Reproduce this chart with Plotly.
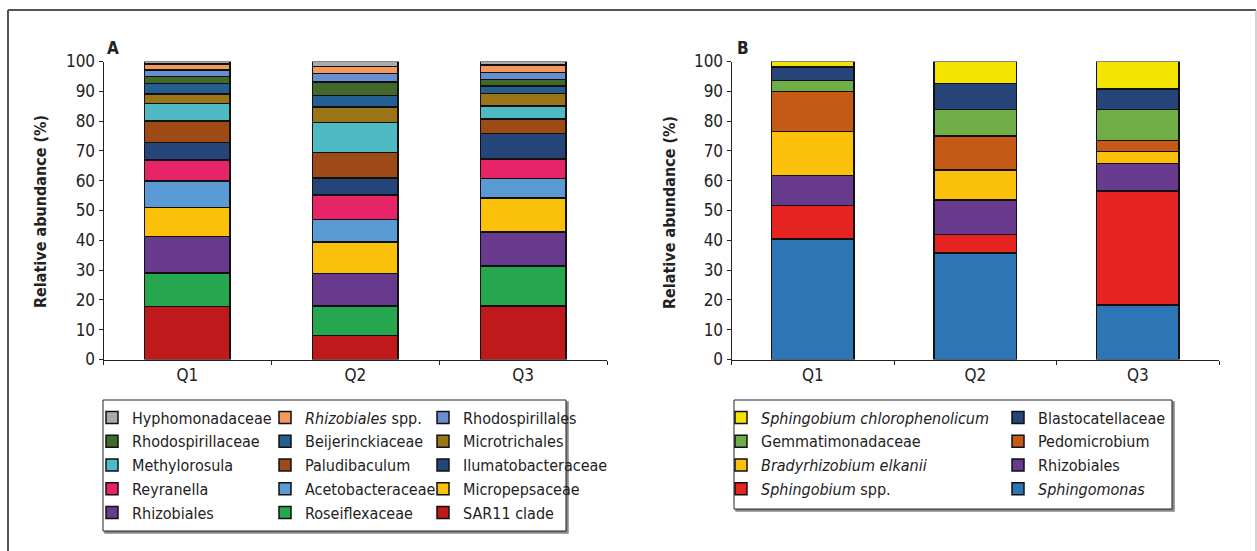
import plotly.graph_objects as go

W, H = 1257, 551

categories = ["Q1", "Q2", "Q3"]

# Panel A (bottom of stack first)
names_a = ["SAR11 clade", "Roseiflexaceae", "Rhizobiales", "Micropepsaceae",
           "Acetobacteraceae", "Reyranella", "Ilumatobacteraceae", "Paludibaculum",
           "Methylorosula", "Microtrichales", "Beijerinckiaceae", "Rhodospirillaceae",
           "Rhodospirillales", "<i>Rhizobiales</i> spp.", "Hyphomonadaceae"]
sar11 = [17.8, 8.1, 18.0]
roseiflexaceae = [11.2, 9.9, 13.4]
rhizobiales_a = [12.3, 10.8, 11.4]
micropepsaceae = [9.7, 10.7, 11.4]
acetobacteraceae = [8.9, 7.4, 6.5]
reyranella = [7.0, 8.3, 6.6]
ilumatobacteraceae = [5.9, 5.7, 8.5]
paludibaculum = [7.2, 8.6, 4.9]
methylorosula = [5.9, 10.1, 4.3]
microtrichales = [3.2, 5.1, 4.2]
beijerinckiaceae = [3.5, 3.9, 2.6]
rhodospirillaceae = [2.3, 4.6, 2.2]
rhodospirillales = [2.3, 2.7, 2.3]
rhizobiales_spp = [1.9, 2.4, 2.5]
hyphomonadaceae = [0.9, 1.7, 1.2]
values_a = [sar11, roseiflexaceae, rhizobiales_a, micropepsaceae, acetobacteraceae,
            reyranella, ilumatobacteraceae, paludibaculum, methylorosula, microtrichales,
            beijerinckiaceae, rhodospirillaceae, rhodospirillales, rhizobiales_spp,
            hyphomonadaceae]
colors_a = ["#C0191B", "#27A650", "#673A8E", "#FBC10A", "#5B9BD5", "#E62467",
            "#254478", "#9E4A17", "#4FBAC4", "#9A7517", "#255E91", "#43682B",
            "#698ED0", "#F4995B", "#ABABAB"]

# Panel B (bottom of stack first)
names_b = ["<i>Sphingomonas</i>", "<i>Sphingobium</i> spp.", "Rhizobiales",
           "<i>Bradyrhizobium elkanii</i>", "Pedomicrobium", "Gemmatimonadaceae",
           "Blastocatellaceae", "<i>Sphingobium chlorophenolicum</i>"]
sphingomonas = [40.5, 35.8, 18.3]
sphingobium_spp = [11.1, 6.2, 38.3]
rhizobiales_b = [10.2, 11.6, 9.1]
bradyrhizobium = [14.7, 10.0, 4.1]
pedomicrobium = [13.4, 11.4, 3.7]
gemmatimonadaceae = [3.8, 8.9, 10.4]
blastocatellaceae = [4.5, 8.8, 6.9]
chlorophenolicum = [1.8, 7.3, 9.2]
values_b = [sphingomonas, sphingobium_spp, rhizobiales_b, bradyrhizobium,
            pedomicrobium, gemmatimonadaceae, blastocatellaceae, chlorophenolicum]
colors_b = ["#2E75B6", "#E52421", "#673A8E", "#FBC10A", "#C55A17", "#70AD47",
            "#264478", "#F3E500"]

yticks = list(range(0, 101, 10))

FONT = "Liberation Sans Narrow, Arial Narrow, DejaVu Sans Condensed, sans-serif"
TXT = "#222222"

fig = go.Figure()

legends_a = ["legend", "legend2", "legend3"]
for i, (n, v, c) in enumerate(zip(names_a, values_a, colors_a)):
    r = len(names_a) - 1 - i
    fig.add_trace(go.Bar(x=categories, y=v, name=n, width=0.51,
                         marker=dict(color=c, line=dict(color="#111111", width=1.5)),
                         xaxis="x", yaxis="y", legend=legends_a[r % 3]))

legends_b = ["legend4", "legend5"]
for i, (n, v, c) in enumerate(zip(names_b, values_b, colors_b)):
    r = len(names_b) - 1 - i
    fig.add_trace(go.Bar(x=categories, y=v, name=n, width=0.51,
                         marker=dict(color=c, line=dict(color="#111111", width=1.5)),
                         xaxis="x2", yaxis="y2", legend=legends_b[r % 2]))

def px_x(p):
    return p / W

def px_y(p):
    return 1 - p / H

ydom = [px_y(359.5), px_y(61.5)]
xdom_a = [px_x(103.5), px_x(607)]
xdom_b = [px_x(731.5), px_x(1219)]

yaxis_common = dict(range=[0, 100], tickvals=yticks, ticks="outside", ticklen=4,
                    tickcolor="#222", showline=True, linecolor="#222", linewidth=1,
                    showgrid=False, zeroline=False, tickfont=dict(family=FONT, size=17, color=TXT),
                    fixedrange=True, automargin=False)
xaxis_common = dict(type="category", ticks="outside", tickson="boundaries", ticklen=4,
                    tickcolor="#222", showline=True, linecolor="#222", linewidth=1,
                    showgrid=False, zeroline=False, tickfont=dict(family=FONT, size=17, color=TXT),
                    fixedrange=True, automargin=False)

legend_common = dict(orientation="v", traceorder="reversed", bgcolor="rgba(0,0,0,0)",
                     borderwidth=0, font=dict(family=FONT, size=16, color=TXT),
                     xanchor="left", yanchor="top", tracegroupgap=0, itemclick=False,
                     itemdoubleclick=False)
ly = px_y(400.5)

fig.update_layout(
    width=W, height=H, margin=dict(l=0, r=0, t=0, b=0, pad=0, autoexpand=False),
    paper_bgcolor="white", plot_bgcolor="white",
    barmode="stack", showlegend=True,
    xaxis=dict(domain=xdom_a, anchor="y", **xaxis_common),
    yaxis=dict(domain=ydom, anchor="x", **yaxis_common),
    xaxis2=dict(domain=xdom_b, anchor="y2", **xaxis_common),
    yaxis2=dict(domain=ydom, anchor="x2", **yaxis_common),
    legend=dict(x=px_x(92), y=ly, **legend_common),
    legend2=dict(x=px_x(265), y=ly, **legend_common),
    legend3=dict(x=px_x(423), y=ly, **legend_common),
    legend4=dict(x=px_x(721), y=ly, **legend_common),
    legend5=dict(x=px_x(998), y=ly, **legend_common),
)

shapes = []
# outer frame
shapes.append(dict(type="line", xref="paper", yref="paper", x0=px_x(8), x1=px_x(8),
                   y0=px_y(10), y1=px_y(560), line=dict(color="#555", width=2)))
shapes.append(dict(type="line", xref="paper", yref="paper", x0=px_x(8), x1=px_x(1256),
                   y0=px_y(10), y1=px_y(10), line=dict(color="#555", width=2)))
shapes.append(dict(type="line", xref="paper", yref="paper", x0=px_x(1256), x1=px_x(1256),
                   y0=px_y(10), y1=px_y(560), line=dict(color="#AAAAAA", width=1)))
# legend boxes with shadow
for (x0, y0, x1, y1) in [(103, 400, 566, 531), (734, 400, 1172, 509)]:
    shapes.append(dict(type="rect", xref="paper", yref="paper",
                       x0=px_x(x0 + 2), x1=px_x(x1 + 2), y0=px_y(y0 + 2), y1=px_y(y1 + 2),
                       line=dict(color="#888888", width=1.5), fillcolor="#888888", layer="above"))
    shapes.append(dict(type="rect", xref="paper", yref="paper",
                       x0=px_x(x0), x1=px_x(x1), y0=px_y(y0), y1=px_y(y1),
                       line=dict(color="#222222", width=1), fillcolor="white", layer="above"))
fig.update_layout(shapes=shapes)

annotations = []
for lab, xpx, ytx in [("A", 112.5, 40), ("B", 742.5, 669)]:
    annotations.append(dict(text="<b>%s</b>" % lab, xref="paper", yref="paper",
                            x=px_x(xpx), y=px_y(48), xanchor="center", yanchor="middle",
                            showarrow=False, font=dict(family=FONT, size=17, color=TXT)))
    annotations.append(dict(text="<b>Relative abundance (%)</b>", xref="paper", yref="paper",
                            x=px_x(ytx), y=px_y(212), xanchor="center", yanchor="middle",
                            textangle=-90, showarrow=False,
                            font=dict(family=FONT, size=16, color=TXT)))
fig.update_layout(annotations=annotations)

fig.write_html("out.html", config={"displayModeBar": False},
               post_script="document.body.style.margin='0';document.body.style.overflow='hidden';")
